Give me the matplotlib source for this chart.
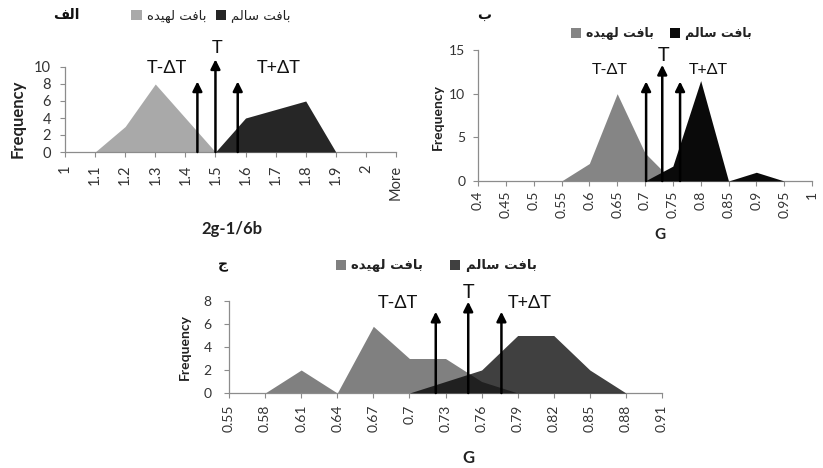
import matplotlib
matplotlib.use("Agg")
import matplotlib.pyplot as plt
from matplotlib.patches import Patch
from matplotlib import font_manager
from matplotlib.ft2font import FT2Font

# ---------------- data ----------------
A_cats = ['1', '1.1', '1.2', '1.3', '1.4', '1.5', '1.6', '1.7', '1.8', '1.9', '2', 'More']
A_bruised = [0, 0, 3, 8, 4, 0, 0, 0, 0, 0, 0, 0]
A_healthy = [0, 0, 0, 0, 0, 0, 4, 5, 6, 0, 0, 0]
A_arrow_x = [4.4, 5.0, 5.74]          # category-index positions of T-ΔT, T, T+ΔT
A_arrow_top = [8.3, 10.9, 8.3]

B_cats = ['0.4', '0.45', '0.5', '0.55', '0.6', '0.65', '0.7', '0.75', '0.8', '0.85', '0.9', '0.95', '1']
B_bruised = [0, 0, 0, 0, 2, 10, 3.2, 0, 0, 0, 0, 0, 0]
B_healthy = [0, 0, 0, 0, 0, 0, 0, 1.7, 11.5, 0, 1, 0, 0]
B_arrow_x = [6.04, 6.62, 7.26]
B_arrow_top = [11.4, 13.3, 11.4]

C_cats = ['0.55', '0.58', '0.61', '0.64', '0.67', '0.7', '0.73', '0.76', '0.79', '0.82', '0.85', '0.88', '0.91']
C_bruised = [0, 0, 2, 0, 5.8, 3, 3, 1, 0, 0, 0, 0, 0]
C_healthy = [0, 0, 0, 0, 0, 0, 1, 2, 5, 5, 2, 0, 0]
C_arrow_x = [5.73, 6.63, 7.55]
C_arrow_top = [7.07, 7.94, 7.07]

arrow_labels = ['T-ΔT', 'T', 'T+ΔT']
legend_labels = ['بافت لهیده', 'بافت سالم']
panel_labels = ['الف', 'ب', 'ج']

# ------------- simple Arabic shaping (matplotlib has no RTL shaping) -------------
def _charmap(weight):
    try:
        p = font_manager.findfont(font_manager.FontProperties(family='DejaVu Sans', weight=weight))
        return FT2Font(p).get_charmap()
    except Exception:
        return {}


_cmap = _charmap('normal')
_cmap_b = _charmap('bold')
_yeh = ('\uFBFC', '\uFBFD', '\uFBFE', '\uFBFF')
if not all(ord(c) in _cmap for c in _yeh):
    _yeh = ('\uFEEF', '\uFEF0', '\uFEF3', '\uFEF4')
FORMS = {  # isolated, final, initial, medial
    'ا': ('\uFE8D', '\uFE8E', None, None),
    'ب': ('\uFE8F', '\uFE90', '\uFE91', '\uFE92'),
    'ت': ('\uFE95', '\uFE96', '\uFE97', '\uFE98'),
    'ج': ('\uFE9D', '\uFE9E', '\uFE9F', '\uFEA0'),
    'د': ('\uFEA9', '\uFEAA', None, None),
    'س': ('\uFEB1', '\uFEB2', '\uFEB3', '\uFEB4'),
    'ف': ('\uFED1', '\uFED2', '\uFED3', '\uFED4'),
    'ل': ('\uFEDD', '\uFEDE', '\uFEDF', '\uFEE0'),
    'م': ('\uFEE1', '\uFEE2', '\uFEE3', '\uFEE4'),
    'ه': ('\uFEE9', '\uFEEA', '\uFEEB', '\uFEEC'),
    'ی': _yeh,
}


def shape(s):
    out = []
    for i, ch in enumerate(s):
        if ch not in FORMS:
            out.append(ch)
            continue
        prev = s[i - 1] if i > 0 else ''
        nxt = s[i + 1] if i + 1 < len(s) else ''
        jp = prev in FORMS and FORMS[prev][2] is not None
        jn = nxt in FORMS and FORMS[ch][2] is not None
        iso, fin, ini, med = FORMS[ch]
        if jp and jn:
            out.append(med)
        elif jp:
            out.append(fin)
        elif jn:
            out.append(ini)
        else:
            out.append(iso)
    return ''.join(out)[::-1]


def ar_weight(text, want_bold):
    if want_bold and all((ord(c) in _cmap_b) or c == ' ' for c in text):
        return 'bold'
    return 'normal'


# ---------------- figure ----------------
W, H = 823, 468
fig = plt.figure(figsize=(W / 100, H / 100), dpi=100)
fig.patch.set_facecolor('white')
LAT = ['Lato', 'DejaVu Sans']
AR = ['DejaVu Sans']
AXC = '#8c8c8c'
TXT = '#333333'


def add_ax(x0, y0, x1, y1):
    return fig.add_axes([x0 / W, 1 - y1 / H, (x1 - x0) / W, (y1 - y0) / H])


def panel(box, cats, bruised, healthy, c_b, c_h, ylim, yticks, arrow_x, arrow_top,
          lab_pos, tick_fs, xpad, ypad, lab_fs, T_fs, legend_center, leg_colsp, leg_bold,
          letter_pos, letter_txt, ylab_pos, ylab_fs, xlab, xlab_pos, xlab_fs, leg_fs):
    ax = add_ax(*box)
    x = list(range(len(cats)))
    ax.fill_between(x, 0, bruised, color=c_b, linewidth=0, zorder=2)
    ax.fill_between(x, 0, healthy, color=c_h, linewidth=0, zorder=3)
    ax.set_xlim(0, len(cats) - 1)
    ax.set_ylim(*ylim)
    ax.set_xticks(x)
    ax.set_xticklabels(cats, rotation=90, fontsize=tick_fs, color=TXT, family=LAT)
    ax.set_yticks(yticks)
    ax.set_yticklabels([str(v) for v in yticks], fontsize=tick_fs, color=TXT, family=LAT)
    for s in ['top', 'right']:
        ax.spines[s].set_visible(False)
    for s in ['left', 'bottom']:
        ax.spines[s].set_color(AXC)
        ax.spines[s].set_linewidth(0.9)
    ax.tick_params(axis='both', direction='out', length=3.6, width=0.8, color=AXC)
    ax.tick_params(axis='x', pad=xpad)
    ax.tick_params(axis='y', pad=ypad)
    ax.patch.set_alpha(0)
    for xa, top in zip(arrow_x, arrow_top):
        ax.annotate('', xy=(xa, top), xytext=(xa, 0),
                    arrowprops=dict(arrowstyle='-|>', color='black', lw=1.8,
                                    mutation_scale=14, shrinkA=0, shrinkB=0),
                    annotation_clip=False, zorder=5)
    for (lx, ly), t in zip(lab_pos, arrow_labels):
        ax.text(lx, ly, t, ha='center', va='center', fontsize=(T_fs if t == 'T' else lab_fs),
                color='#111111', family=LAT, clip_on=False)
    handles = [Patch(facecolor=c_b, edgecolor='none'), Patch(facecolor=c_h, edgecolor='none')]
    shaped = [shape(t) for t in legend_labels]
    w = ar_weight(''.join(shaped), leg_bold)
    fig.legend(handles, shaped, loc='center',
               bbox_to_anchor=(legend_center[0] / W, 1 - legend_center[1] / H),
               bbox_transform=fig.transFigure, ncol=2, frameon=False,
               handlelength=0.8, handleheight=0.8, handletextpad=0.4,
               columnspacing=leg_colsp, borderpad=0, borderaxespad=0,
               prop=dict(family=AR, size=leg_fs, weight=w), labelcolor='#222222')
    lt = shape(letter_txt)
    fig.text(letter_pos[0] / W, 1 - letter_pos[1] / H, lt, ha='center',
             va='center', fontsize=10, family=AR, fontweight=ar_weight(lt, True),
             color='#111111')
    fig.text(ylab_pos[0] / W, 1 - ylab_pos[1] / H, 'Frequency', rotation=90, ha='center',
             va='center', fontsize=ylab_fs, fontweight='bold', family=LAT, color='#222222')
    fig.text(xlab_pos[0] / W, 1 - xlab_pos[1] / H, xlab, ha='center', va='center',
             fontsize=xlab_fs, fontweight='bold', family=LAT, color='#222222')
    return ax


panel((65, 67, 396, 152), A_cats, A_bruised, A_healthy, '#a9a9a9', '#262626',
      (0, 10), [0, 2, 4, 6, 8, 10], A_arrow_x, A_arrow_top,
      [(3.39, 9.9), (5.05, 12.2), (7.1, 9.9)], 10.5, 5.5, 6.5, 13, 13,
      (211, 16), 0.7, False, (66, 15), panel_labels[0], (18, 119), 12, '2g-1/6b', (232, 229), 12, 9.5)

panel((478, 50, 812, 181), B_cats, B_bruised, B_healthy, '#858585', '#0a0a0a',
      (0, 15), [0, 5, 10, 15], B_arrow_x, B_arrow_top,
      [(4.74, 12.7), (6.65, 14.4), (8.26, 12.7)], 10, 3.5, 5.5, 11.5, 14,
      (661, 34), 1.3, True, (484, 15), panel_labels[1], (438, 117), 10, 'G', (660, 235), 11, 9)

panel((229, 301, 662, 393), C_cats, C_bruised, C_healthy, '#808080', (0, 0, 0, 0.75),
      (0, 8), [0, 2, 4, 6, 8], C_arrow_x, C_arrow_top,
      [(4.68, 7.8), (6.65, 8.7), (8.34, 7.8)], 10, 5, 9, 13, 14,
      (436, 266), 2.0, True, (223, 265), panel_labels[2], (185, 347), 10, 'G', (468, 458), 12, 9.5)

fig.savefig('out.png', dpi=100, facecolor='white')
